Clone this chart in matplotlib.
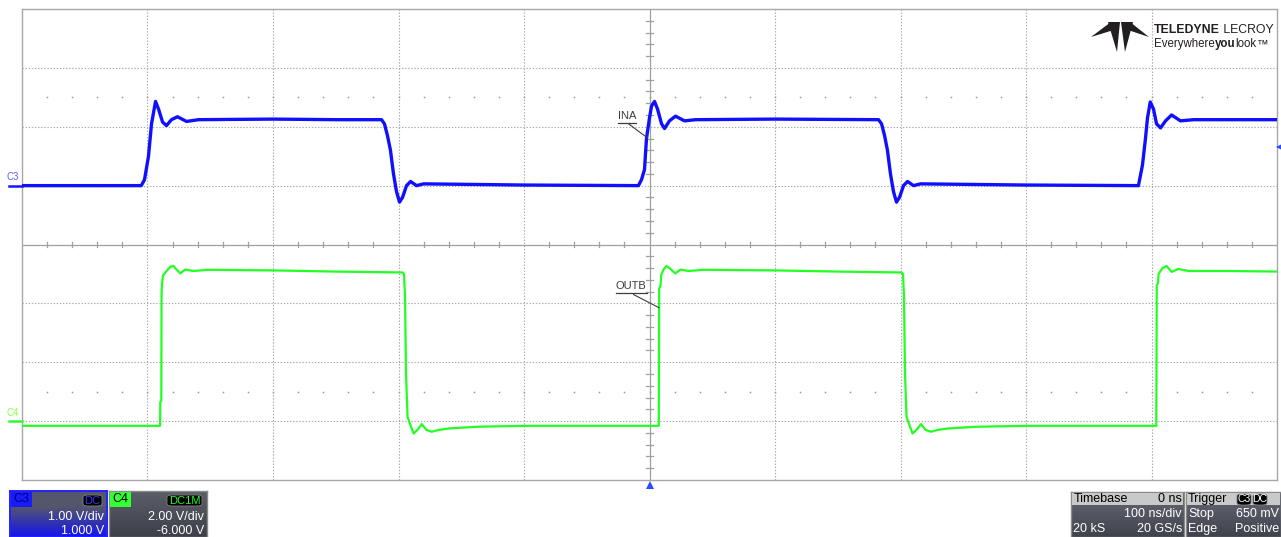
import matplotlib
matplotlib.use('Agg')
import matplotlib.pyplot as plt
import numpy as np
from matplotlib.patches import Rectangle, Polygon, FancyBboxPatch
from matplotlib import font_manager

time_per_div_ns = 100
c3_vdiv, c3_offset = 1.0, 1.0      # 1.00 V/div, offset 1.000 V
c4_vdiv, c4_offset = 2.0, -6.0     # 2.00 V/div, offset -6.000 V
trigger_level_v = 0.65

c3_time = [-500, -405, -402.4, -399.2, -396.8, -393.6, -391.2, -388.0, -384.9, -380.9,
           -376.1, -368.9, -359.4, -300, -250, -213.5, -211.2, -208.8, -206.4, -204.0,
           -201.6, -199.2, -196.8, -193.6, -190.4, -185.6, -180, -100, -8.8, -6.4,
           -4.0, -2.4, 0, 1.6, 4.0, 6.4, 9.6, 12, 15.9, 20.7,
           27.9, 36.7, 100, 182.5, 184.9, 187.3, 189.6, 192.0, 194.4, 196.8,
           199.2, 202.4, 205.6, 210.4, 216, 300, 389.6, 392.8, 395.2, 396.8,
           399.0, 401.6, 404, 407.2, 411.2, 416, 423.1, 433.5, 500]
c3_volt = [0.0, 0.0, 0.1, 0.5, 1.05, 1.43, 1.30, 1.08, 1.02, 1.12,
           1.17, 1.09, 1.12, 1.13, 1.12, 1.12, 1.05, 0.85, 0.60, 0.20,
           -0.10, -0.28, -0.20, 0.00, 0.07, 0.00, 0.03, 0.01, 0.0, 0.1,
           0.27, 0.80, 1.15, 1.35, 1.43, 1.30, 1.05, 0.97, 1.10, 1.18,
           1.10, 1.12, 1.13, 1.12, 1.05, 0.85, 0.60, 0.20, -0.10, -0.28,
           -0.20, 0.00, 0.07, 0.00, 0.03, 0.01, 0.0, 0.35, 0.80, 1.15,
           1.42, 1.30, 1.05, 0.98, 1.10, 1.20, 1.10, 1.12, 1.12]

c4_time = [-500, -390.0, -389.8, -389.0, -388.8, -388.5, -387.6, -384.8, -381.6, -379.2,
           -376.9, -373.9, -370.0, -363.3, -351.4, -300, -250, -196.8, -195.6, -194.8,
           -194.0, -192.8, -191.2, -188.0, -184.9, -181.5, -177.7, -173.5, -168.1, -160.2,
           -136.3, -100, 7.4, 7.7, 8.8, 9.3, 11.2, 13.5, 15.9, 20.5,
           24.7, 31.1, 43, 100, 150, 200.8, 202.0, 202.8, 203.6, 204.8,
           206.4, 209.6, 212.7, 216.3, 220, 224.3, 229.5, 237.5, 261.4, 300,
           403.8, 404.2, 405.2, 405.6, 408.8, 412, 416, 421.5, 429.5, 460, 500]
c4_volt = [-0.16, -0.16, 0.65, 0.70, 4.30, 4.65, 4.95, 5.10, 5.25, 5.27,
           5.15, 5.02, 5.15, 5.10, 5.14, 5.12, 5.08, 5.05, 5.00, 4.20,
           1.60, 0.15, -0.05, -0.42, -0.30, -0.10, -0.30, -0.36, -0.30, -0.25,
           -0.19, -0.16, -0.16, 4.50, 4.60, 4.96, 5.15, 5.27, 5.20, 5.02,
           5.15, 5.10, 5.14, 5.12, 5.08, 5.05, 5.00, 4.20, 1.60, 0.15,
           -0.05, -0.42, -0.30, -0.10, -0.30, -0.36, -0.30, -0.25, -0.19, -0.16,
           -0.16, 4.60, 4.70, 5.00, 5.20, 5.27, 5.07, 5.17, 5.10, 5.10, 5.08]

# ---------------- figure ----------------
W, H = 1281, 537
fig = plt.figure(figsize=(W / 100, H / 100), dpi=100)
fig.patch.set_facecolor('white')

installed = {f.name for f in font_manager.fontManager.ttflist}
SANS = 'Liberation Sans' if 'Liberation Sans' in installed else 'DejaVu Sans'


def fx(x):
    return x / W


def fy(y):
    return 1 - y / H


L, R, T, B = 22, 1277, 9, 480
ax = fig.add_axes([fx(L), fy(B), (R - L) / W, (B - T) / H])
ax.set_xlim(-5 * time_per_div_ns, 5 * time_per_div_ns)
ax.set_ylim(-4, 4)
ax.set_xticks([])
ax.set_yticks([])
for s in ax.spines.values():
    s.set_color('#a8a8a8')
    s.set_linewidth(1.0)

grid_col = '#a8a8a8'
for i in range(-4, 5):
    x = i * time_per_div_ns
    if i == 0:
        ax.axvline(x, color='#a0a0a0', lw=0.9, zorder=1)
    else:
        ax.axvline(x, color=grid_col, lw=0.8, ls=(0, (1.2, 1.6)), zorder=1)
for j in range(-3, 4):
    if j == 0:
        ax.axhline(0, color='#a0a0a0', lw=0.9, zorder=1)
    else:
        ax.axhline(j, color=grid_col, lw=0.8, ls=(0, (1.2, 1.6)), zorder=1)

# minor ticks on centre lines
minor_x = [k * time_per_div_ns / 5 for k in range(-25, 26) if k % 5 != 0]
minor_y = [k / 5 for k in range(-20, 21) if k % 5 != 0]
for x in minor_x:
    ax.plot([x, x], [-0.04, 0.04], color='#a0a0a0', lw=0.9, zorder=1)
for y in minor_y:
    ax.plot([-2.4, 2.4], [y, y], color='#a0a0a0', lw=0.9, zorder=1)
# dotted rows at +/-2.5 div
dot_x = [k * time_per_div_ns / 5 for k in range(-24, 25)]
for yy in (2.5, -2.5):
    ax.plot(dot_x, [yy] * len(dot_x), ls='none', marker='s', ms=1.1,
            color='#9a9a9a', mew=0, zorder=1)

# traces
c3_div = (np.array(c3_volt) + c3_offset) / c3_vdiv
c4_div = (np.array(c4_volt) + c4_offset) / c4_vdiv
ax.plot(c3_time, c3_div, color='#1010ff', lw=2.4, solid_joinstyle='round', zorder=3)
ax.plot(c4_time, c4_div, color='#22ff22', lw=1.6, solid_joinstyle='round', zorder=3)

# channel ground markers
c3_zero = c3_offset / c3_vdiv
c4_zero = c4_offset / c4_vdiv
ax.plot([-510, -500], [c3_zero, c3_zero], color='#1515ff', lw=1.8, clip_on=False, zorder=4)
ax.plot([-510, -500], [c4_zero, c4_zero], color='#33ff33', lw=1.8, clip_on=False, zorder=4)
ax.text(-512, c3_zero + 0.06, 'C3', color='#6060ff', fontsize=7, family=SANS,
        ha='left', va='bottom', clip_on=False)
ax.text(-512, c4_zero + 0.06, 'C4', color='#88ff44', fontsize=7, family=SANS,
        ha='left', va='bottom', clip_on=False)

# trigger markers
ax.plot([0], [-4.08], marker='^', ms=6, color='#2a4cff', mew=0, clip_on=False, zorder=5)
trig_div = (trigger_level_v + c3_offset) / c3_vdiv
ax.plot([501.6], [trig_div], marker='<', ms=4, color='#2a4cff', mew=0, clip_on=False, zorder=5)

# trace labels
lab_col = '#3c3c3c'
ax.plot([-25.3, -10.9], [2.066, 2.066], color=lab_col, lw=0.9, zorder=4)
ax.plot([-16.7, -1.6], [2.05, 1.81], color=lab_col, lw=0.8, zorder=4)
ax.text(-18.1, 2.09, 'INA', color=lab_col, fontsize=8, family=SANS, ha='center', va='bottom', zorder=4)
ax.plot([-26.9, -2.2], [-0.82, -0.82], color=lab_col, lw=0.9, zorder=4)
ax.plot([-12.7, 7.7], [-0.85, -1.075], color=lab_col, lw=0.8, zorder=4)
ax.text(-14.5, -0.79, 'OUTB', color=lab_col, fontsize=8, family=SANS, ha='center', va='bottom', zorder=4)

# ---------------- logo ----------------
logo_col = '#231f20'
for pts in ([(1091, 37), (1111, 22), (1117, 29)],
            [(1108, 22), (1120, 22), (1117, 52)],
            [(1121, 22), (1133, 22), (1125, 52)],
            [(1130, 22), (1149, 37), (1125, 29)]):
    fig.add_artist(Polygon([(fx(x), fy(y)) for x, y in pts], closed=True,
                           transform=fig.transFigure, facecolor=logo_col, edgecolor='none'))

renderer = fig.canvas.get_renderer()


def seq_text(x_px, y_px, parts, target_w, size0, **kw):
    # find a font size so that the parts together span target_w pixels
    def build(size):
        arts = []
        x = fx(x_px)
        for s, weight in parts:
            t = fig.text(x, fy(y_px), s, fontweight=weight, va='center', ha='left',
                         fontsize=size, **kw)
            bb = t.get_window_extent(renderer)
            x = bb.x1 / W
            arts.append(t)
        return arts, x * W - x_px
    arts, w = build(size0)
    size = size0 * target_w / w
    for a in arts:
        a.remove()
    build(size)


seq_text(1154, 30, [('TELEDYNE', 'bold'), (' LECROY', 'normal')], 119, 10,
         family=SANS, color=logo_col)
seq_text(1154, 44, [('Everywhere', 'normal'), ('you', 'bold'), ('look', 'normal'), ('\u2122', 'normal')],
         114, 9, family=SANS, color=logo_col)


# ---------------- descriptor boxes ----------------
def grad_box(x0, y0, x1, y1, top, bottom, edge, lw=1.0, split=0.0):
    a = fig.add_axes([fx(x0), fy(y1), (x1 - x0) / W, (y1 - y0) / H])
    g = np.linspace(0, 1, 64)
    g = np.clip((g - split) / (1 - split), 0, 1)[:, None, None]
    img = np.array(top)[None, None, :] * (1 - g) + np.array(bottom)[None, None, :] * g
    a.imshow(img, aspect='auto', extent=[0, 1, 0, 1], origin='upper', interpolation='bilinear')
    a.set_xticks([])
    a.set_yticks([])
    for s in a.spines.values():
        s.set_color(edge)
        s.set_linewidth(lw)
    return a


def rect(x0, y0, x1, y1, fc, round_=False):
    if round_:
        p = FancyBboxPatch((fx(x0), fy(y1)), (x1 - x0) / W, (y1 - y0) / H,
                           boxstyle='round,pad=0,rounding_size=0.004',
                           transform=fig.transFigure, facecolor=fc, edgecolor='#808080', lw=0.6)
    else:
        p = Rectangle((fx(x0), fy(y1)), (x1 - x0) / W, (y1 - y0) / H,
                      transform=fig.transFigure, facecolor=fc, edgecolor='none')
    fig.add_artist(p)


def txt(x, y, s, ha='left', color='white', size=9, weight='normal'):
    fig.text(fx(x), fy(y), s, ha=ha, va='center', color=color, fontsize=size,
             family=SANS, fontweight=weight)


# C3
grad_box(10, 491, 107, 537, (0.33, 0.34, 0.42), (0.08, 0.08, 0.92), '#2222ff', lw=1.4, split=0.35)
rect(11, 492, 32, 507, '#1a1aff')
txt(21.5, 499.5, 'C3', ha='center', color='#000070', size=9)
rect(83, 495, 102, 506, '#000000', round_=True)
txt(92.5, 500.5, 'DC', ha='center', color='#3535ff', size=8)
txt(104, 517, '1.00 V/div', ha='right')
txt(104, 531, '1.000 V', ha='right')

# C4
grad_box(109, 491, 207, 537, (0.36, 0.37, 0.41), (0.24, 0.25, 0.29), '#8a8a8a', lw=1.0)
rect(110, 492, 131, 507, '#33ff33')
txt(120.5, 499.5, 'C4', ha='center', color='#000000', size=9)
rect(167, 495, 202, 506, '#000000', round_=True)
txt(184.5, 500.5, 'DC1M', ha='center', color='#22ff22', size=8)
txt(204, 517, '2.00 V/div', ha='right')
txt(204, 531, '-6.000 V', ha='right')

# Timebase
grad_box(1071, 492, 1184, 537, (0.40, 0.41, 0.46), (0.25, 0.26, 0.30), '#8a8a8a', lw=1.0)
rect(1072, 493, 1183, 505, '#c9c9c9')
txt(1074, 499, 'Timebase', color='#000000')
txt(1182, 499, '0 ns', ha='right', color='#000000')
txt(1182, 514, '100 ns/div', ha='right')
txt(1073, 529, '20 kS')
txt(1182, 529, '20 GS/s', ha='right')

# Trigger
grad_box(1186, 492, 1281, 537, (0.40, 0.41, 0.46), (0.25, 0.26, 0.30), '#8a8a8a', lw=1.0)
rect(1187, 493, 1280, 505, '#c9c9c9')
txt(1188, 499, 'Trigger', color='#000000')
rect(1237, 494, 1251, 505, '#000000', round_=True)
txt(1244, 499.5, 'C3', ha='center', color='#ffffff', size=7.5)
rect(1253, 494, 1267, 505, '#000000', round_=True)
txt(1260, 499.5, 'DC', ha='center', color='#ffffff', size=7.5)
txt(1188, 514, 'Stop')
txt(1279, 514, '650 mV', ha='right')
txt(1188, 529, 'Edge')
txt(1279, 529, 'Positive', ha='right')

fig.savefig('out.png', dpi=100, facecolor='white')
